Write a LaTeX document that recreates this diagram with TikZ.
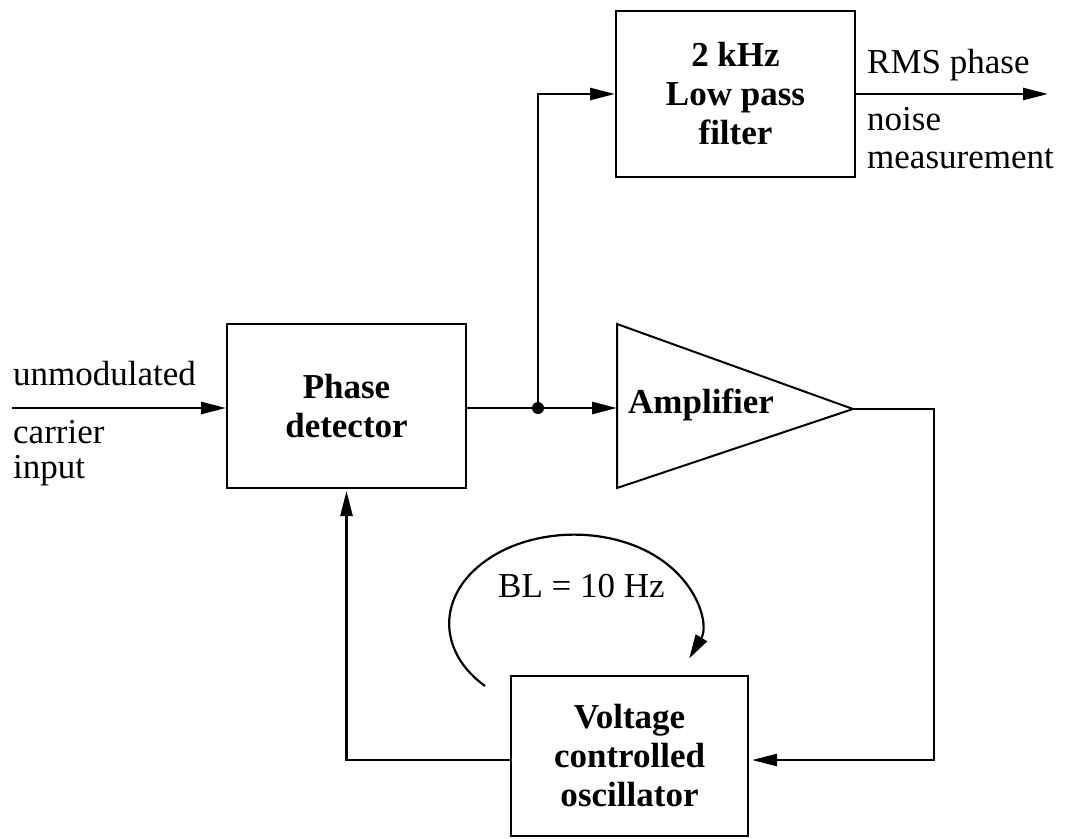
\documentclass[tikz,border=0pt]{standalone}
\usepackage{fontspec}
\setmainfont{Liberation Serif}
\usetikzlibrary{arrows.meta}
\begin{document}
\begin{tikzpicture}[x=1pt,y=-1pt,
  box/.style={draw,line width=2pt,inner sep=0pt,align=center,font=\fontsize{35}{39}\selectfont\bfseries},
  lbl/.style={font=\fontsize{35}{39}\selectfont,inner sep=0pt,anchor=base west},
  conn/.style={line width=2.6pt},
  arr/.style={conn,-{Triangle[length=25pt,width=12pt]}},
]
\useasboundingbox (0,0) rectangle (1067,838);
% boxes
\node[box,minimum width=239pt,minimum height=164pt] (pd) at (346.5,406) {Phase\\detector};
\node[box,minimum width=239pt,minimum height=166pt] (lpf) at (735.5,94) {2 kHz\\Low pass\\filter};
\node[box,minimum width=237pt,minimum height=160pt] (vco) at (629.5,756) {Voltage\\controlled\\oscillator};
% amplifier
\draw[line width=2pt] (617,324) -- (853,409) -- (617,488) -- cycle;
\coordinate (ampin) at (617,408);
\coordinate (ampout) at (853,409);
\node[font=\fontsize{35}{39}\selectfont\bfseries,inner sep=0pt,anchor=base west] (amp) at (628,413) {Amplifier};
% labels
\node[lbl] (l1) at (13,385) {unmodulated};
\node[lbl] (l2) at (13,443) {carrier};
\node[lbl] (l3) at (13,478) {input};
\node[lbl] (r1) at (867,73) {RMS phase};
\node[lbl] (r2) at (867,130) {noise};
\node[lbl] (r3) at (867,168) {measurement};
\node[lbl] (bl) at (498,597) {BL = 10 Hz};
% connectors
\coordinate (in) at (12,408);
\coordinate (j) at (538,408);
\coordinate (rms) at (1048,94);
\coordinate (c1) at (934,409);
\draw[arr] (in) -- (pd.west |- in);
\draw[conn] (pd.east |- j) -- (j);
\draw[arr] (j) -- (ampin);
\fill (j) circle[radius=6];
\draw[arr] (j) |- (lpf.west);
\draw[arr] (lpf.east) -- (rms);
\draw[arr,shorten >=3pt] (ampout) -- (c1) |- ([yshift=-4pt]vco.east);
\draw[arr,shorten >=2pt] ([yshift=-4pt]vco.west) -| (pd.south);
% loop arc
\coordinate (a0) at (485,686);
\draw[line width=2.2pt,-{Triangle[length=24pt,width=13pt]}] (a0) arc[start angle=135.5,end angle=383,x radius=125,y radius=89];
\end{tikzpicture}
\end{document}
